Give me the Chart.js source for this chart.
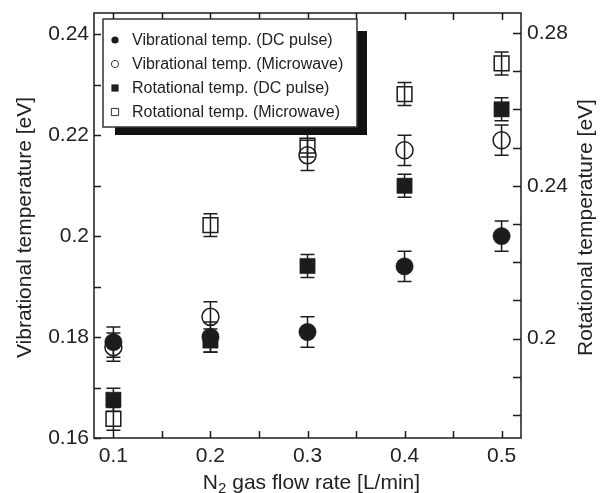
<!DOCTYPE html>
<html><head><meta charset="utf-8">
<script src="https://cdn.jsdelivr.net/npm/chart.js@4"></script>
<style>html,body{margin:0;padding:0;background:#fff}#wrap{width:600px;height:493px;position:relative}</style>
</head><body><div id="wrap"><canvas id="c" width="600" height="493"></canvas></div>
<script>
// ---- data ----
const flowRates = [0.1, 0.2, 0.3, 0.4, 0.5];
const vibDC = [0.179, 0.180, 0.181, 0.194, 0.200];
const vibDCErr = [0.003, 0.003, 0.003, 0.003, 0.003];
const vibMW = [0.178, 0.184, 0.216, 0.217, 0.219];
const vibMWErr = [0.0028, 0.003, 0.003, 0.003, 0.003];
const rotDC = [0.184, 0.1995, 0.219, 0.240, 0.260];
const rotDCErr = [0.003, 0.003, 0.003, 0.003, 0.003];
const rotMW = [0.179, 0.2297, 0.2505, 0.264, 0.272];
const rotMWErr = [0.003, 0.003, 0.003, 0.003, 0.003];
const seriesNames = ['Vibrational temp. (DC pulse)', 'Vibrational temp. (Microwave)', 'Rotational temp. (DC pulse)', 'Rotational temp. (Microwave)'];
const xTickVals = [0.1, 0.15, 0.2, 0.25, 0.3, 0.35, 0.4, 0.45, 0.5];
const xTickLabels = ['0.1', '', '0.2', '', '0.3', '', '0.4', '', '0.5'];
const leftTickVals = [0.16, 0.17, 0.18, 0.19, 0.2, 0.21, 0.22, 0.23, 0.24];
const leftTickLabels = ['0.16', '', '0.18', '', '0.2', '', '0.22', '', '0.24'];
const rightTickVals = [0.18, 0.19, 0.2, 0.21, 0.22, 0.23, 0.24, 0.25, 0.26, 0.27, 0.28];
const rightTickLabels = ['', '', '0.2', '', '', '', '0.24', '', '', '', '0.28'];
const xTitle = ['N', '2', ' gas flow rate [L/min]'];
const yTitle = 'Vibrational temperature [eV]';
const y2Title = 'Rotational temperature [eV]';

const INK = '#1c1c1c';
const FONT = "'Liberation Sans', Arial, Helvetica, sans-serif";

function pts(ys, errs) { return flowRates.map((x, i) => ({x: x, y: ys[i], err: errs[i]})); }

const datasets = [
  {label: seriesNames[0], data: pts(vibDC, vibDCErr), yAxisID: 'y', pointStyle: 'circle', pointRadius: 8.7,
   backgroundColor: INK, borderColor: INK, borderWidth: 0.5, order: 1},
  {label: seriesNames[1], data: pts(vibMW, vibMWErr), yAxisID: 'y', pointStyle: 'circle', pointRadius: 8.5,
   backgroundColor: 'rgba(255,255,255,0)', borderColor: INK, borderWidth: 1.5, order: 3},
  {label: seriesNames[2], data: pts(rotDC, rotDCErr), yAxisID: 'y2', pointStyle: 'rect', pointRadius: 10.8,
   backgroundColor: INK, borderColor: INK, borderWidth: 0.5, order: 2},
  {label: seriesNames[3], data: pts(rotMW, rotMWErr), yAxisID: 'y2', pointStyle: 'rect', pointRadius: 10.4,
   backgroundColor: 'rgba(255,255,255,0)', borderColor: INK, borderWidth: 1.5, order: 4}
];

const errorBars = {
  id: 'errorBars',
  beforeDatasetsDraw(chart) {
    const ctx = chart.ctx, xs = chart.scales.x;
    ctx.save();
    ctx.strokeStyle = INK; ctx.lineWidth = 1.5;
    chart.data.datasets.forEach(ds => {
      const ys = chart.scales[ds.yAxisID];
      ds.data.forEach(p => {
        const px = xs.getPixelForValue(p.x);
        const top = ys.getPixelForValue(p.y + p.err);
        const bot = ys.getPixelForValue(p.y - p.err);
        ctx.beginPath();
        ctx.moveTo(px, top); ctx.lineTo(px, bot);
        ctx.moveTo(px - 7, top); ctx.lineTo(px + 7, top);
        ctx.moveTo(px - 7, bot); ctx.lineTo(px + 7, bot);
        ctx.stroke();
      });
    });
    ctx.restore();
  }
};

const frameTicks = {
  id: 'frameTicks',
  afterDraw(chart) {
    const ctx = chart.ctx, a = chart.chartArea;
    const xs = chart.scales.x, ys = chart.scales.y, y2 = chart.scales.y2;
    ctx.save();
    ctx.strokeStyle = INK; ctx.lineWidth = 1.5;
    ctx.strokeRect(a.left, a.top, a.right - a.left, a.bottom - a.top);
    ctx.beginPath();
    xTickVals.forEach(v => {
      const px = Math.round(xs.getPixelForValue(v)) + 0.5;
      ctx.moveTo(px, a.bottom); ctx.lineTo(px, a.bottom - 7);
      ctx.moveTo(px, a.top); ctx.lineTo(px, a.top + 7);
    });
    leftTickVals.forEach(v => {
      const py = Math.round(ys.getPixelForValue(v)) + 0.5;
      ctx.moveTo(a.left, py); ctx.lineTo(a.left + 7, py);
    });
    rightTickVals.forEach(v => {
      const py = Math.round(y2.getPixelForValue(v)) + 0.5;
      ctx.moveTo(a.right, py); ctx.lineTo(a.right - 8, py);
    });
    ctx.stroke();

    // axis titles
    ctx.fillStyle = '#222';
    ctx.font = '21px ' + FONT;
    ctx.textAlign = 'center'; ctx.textBaseline = 'middle';
    ctx.save(); ctx.translate(25, (a.top + a.bottom) / 2 + 2); ctx.rotate(-Math.PI / 2);
    ctx.fillText(yTitle, 0, 0); ctx.restore();
    ctx.save(); ctx.translate(586, (a.top + a.bottom) / 2 + 2); ctx.rotate(-Math.PI / 2);
    ctx.fillText(y2Title, 0, 0); ctx.restore();
    // x title with subscript
    ctx.textAlign = 'left'; ctx.textBaseline = 'alphabetic';
    const bigF = '21px ' + FONT, subF = '15px ' + FONT;
    ctx.font = bigF; const w0 = ctx.measureText(xTitle[0]).width; const w2 = ctx.measureText(xTitle[2]).width;
    ctx.font = subF; const w1 = ctx.measureText(xTitle[1]).width;
    const total = w0 + w1 + w2;
    let sx = (a.left + a.right) / 2 - total / 2 + 4;
    const by = 489;
    ctx.font = bigF; ctx.fillText(xTitle[0], sx, by); sx += w0;
    ctx.font = subF; ctx.fillText(xTitle[1], sx, by + 4); sx += w1;
    ctx.font = bigF; ctx.fillText(xTitle[2], sx, by);

    // legend
    const L = {x: 103, y: 19, w: 254, h: 108};
    ctx.fillStyle = '#111';
    ctx.fillRect(L.x + 12, L.y + 12, L.w - 2, L.h - 4);
    ctx.fillStyle = '#fff';
    ctx.fillRect(L.x, L.y, L.w, L.h);
    ctx.strokeStyle = '#333'; ctx.lineWidth = 1.5;
    ctx.strokeRect(L.x, L.y, L.w, L.h);
    ctx.font = '16px ' + FONT; ctx.textBaseline = 'middle'; ctx.textAlign = 'left';
    const rowY = [40, 64, 88, 112];
    chart.data.datasets.forEach((ds, i) => {
      const mx = 115, my = rowY[i];
      ctx.beginPath();
      if (ds.pointStyle === 'circle') ctx.arc(mx, my, 3.6, 0, Math.PI * 2);
      else ctx.rect(mx - 3.6, my - 3.6, 7.2, 7.2);
      if (i % 2 === 0) { ctx.fillStyle = INK; ctx.fill(); }
      else { ctx.strokeStyle = '#333'; ctx.lineWidth = 1; ctx.stroke(); }
      ctx.fillStyle = '#222';
      ctx.fillText(ds.label, 132, my + 1);
    });
    ctx.restore();
  }
};

function setTicks(vals) { return function (scale) { scale.ticks = vals.map(v => ({value: v})); }; }

new Chart(document.getElementById('c'), {
  type: 'scatter',
  data: {datasets: datasets},
  options: {
    responsive: false, animation: false, devicePixelRatio: 1,
    layout: {padding: {top: 13, left: 0, right: 0, bottom: 0}},
    plugins: {legend: {display: false}, tooltip: {enabled: false}},
    scales: {
      x: {type: 'linear', position: 'bottom', min: 0.08, max: 0.52,
          afterBuildTicks: setTicks(xTickVals),
          afterFit: s => { s.height = 55; s.paddingLeft = 0; s.paddingRight = 0; },
          grid: {display: false, drawTicks: false}, border: {display: false},
          ticks: {autoSkip: false, maxRotation: 0, padding: 6, color: '#222', font: {family: FONT, size: 21},
                  callback: (v, i) => xTickLabels[i]}},
      y: {type: 'linear', position: 'left', min: 0.16, max: 0.2442,
          afterBuildTicks: setTicks(leftTickVals),
          afterFit: s => { s.width = 94; s.paddingTop = 0; s.paddingBottom = 0; },
          grid: {display: false, drawTicks: false}, border: {display: false},
          ticks: {autoSkip: false, padding: 5, color: '#222', font: {family: FONT, size: 21},
                  callback: (v, i) => leftTickLabels[i]}},
      y2: {type: 'linear', position: 'right', min: 0.174, max: 0.2852,
          afterBuildTicks: setTicks(rightTickVals),
          afterFit: s => { s.width = 79; s.paddingTop = 0; s.paddingBottom = 0; },
          grid: {display: false, drawTicks: false}, border: {display: false},
          ticks: {autoSkip: false, padding: 6, color: '#222', font: {family: FONT, size: 21},
                  callback: (v, i) => rightTickLabels[i]}}
    }
  },
  plugins: [errorBars, frameTicks]
});
</script>
</body></html>
